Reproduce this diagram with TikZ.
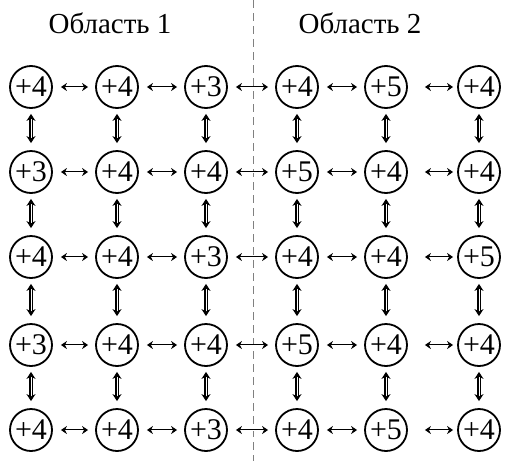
\documentclass[tikz,border=0pt]{standalone}
\usepackage{fontspec}
\setmainfont{Liberation Serif}
\usetikzlibrary{arrows.meta}
\begin{document}
\begin{tikzpicture}[x=1pt,y=-1pt,
  cell/.style={draw,circle,line width=1.8pt,minimum size=42pt,inner sep=0pt,font=\fontsize{30}{30}\selectfont},
  hlink/.style={{Stealth[length=6pt,width=8pt]}-{Stealth[length=6pt,width=8pt]},double,double distance=0.8pt,line width=1pt},
  vlink/.style={{Stealth[length=7pt,width=9pt]}-{Stealth[length=7pt,width=9pt]},double,double distance=1pt,line width=1.2pt,shorten <=5pt,shorten >=7pt}]
\useasboundingbox (0,0) rectangle (506,461);
\node[font=\fontsize{29}{29}\selectfont] (title1) at (110,23) {Область 1};
\node[font=\fontsize{29}{29}\selectfont] (title2) at (360,23) {Область 2};
\coordinate (top) at (253,0);
\coordinate (bottom) at (253,461);
\draw[gray,dashed,dash pattern=on 8pt off 5pt,line width=0.8pt] (top) -- (bottom);
% cells
\foreach \v [count=\i from 0] in {4,4,3,4,5,4, 3,4,4,5,4,4, 4,4,3,4,4,5, 3,4,4,5,4,4, 4,4,3,4,5,4} {
  \pgfmathtruncatemacro\r{div(\i,6)+1}
  \pgfmathtruncatemacro\c{mod(\i,6)+1}
  \pgfmathsetmacro\x{{31,117,206,297,386,479}[\c-1]}
  \pgfmathsetmacro\y{{87,172,257,345,430}[\r-1]}
  \node[cell] (n\r\c) at (\x,\y) {+\v};
}
% links
\foreach \r in {1,...,5} {
  \foreach \c [evaluate=\c as \d using int(\c+1)] in {1,...,4}
    \draw[hlink,shorten <=8pt,shorten >=7pt] (n\r\c) -- (n\r\d);
  \draw[hlink,shorten <=17pt,shorten >=4pt] (n\r5) -- (n\r6);
}
\foreach \r [evaluate=\r as \s using int(\r+1)] in {1,...,4}
  \foreach \c in {1,...,6}
    \draw[vlink] (n\r\c) -- (n\s\c);
\end{tikzpicture}
\end{document}
